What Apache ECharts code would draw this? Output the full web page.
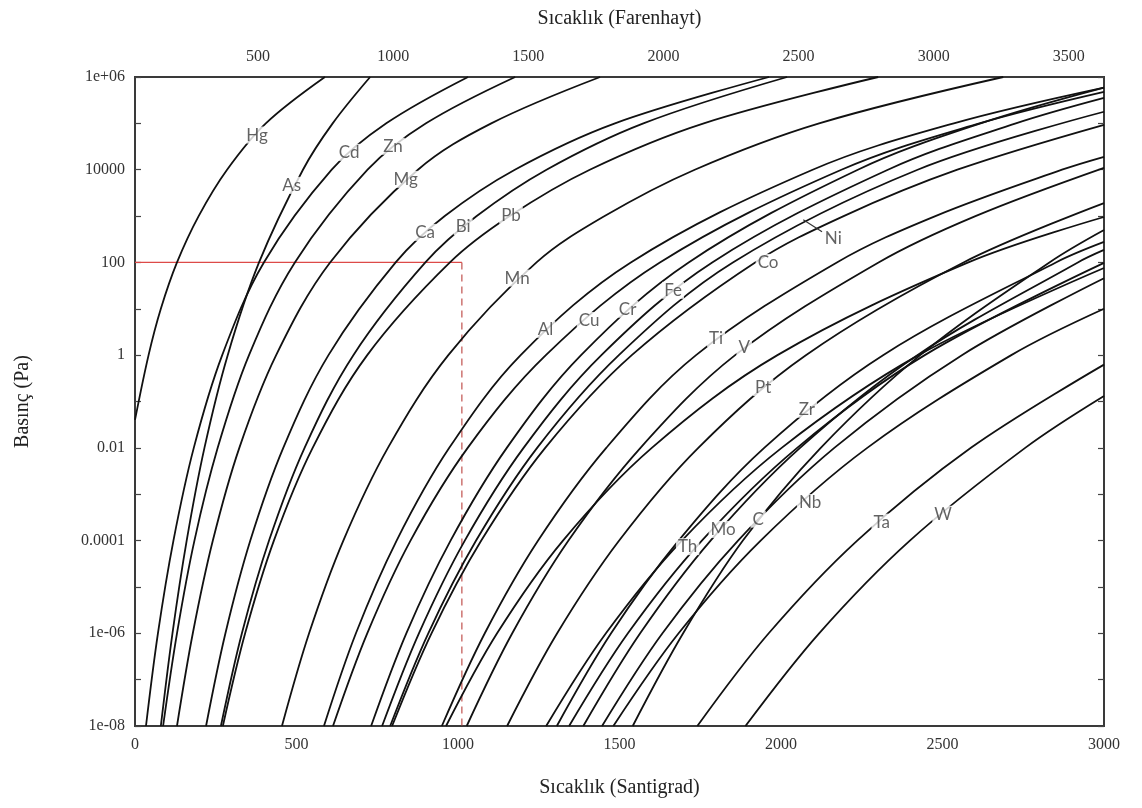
<!DOCTYPE html>
<html>
<head>
<meta charset="utf-8">
<script src="https://cdn.jsdelivr.net/npm/echarts@6/dist/echarts.min.js"></script>
<style>
  html, body { margin: 0; padding: 0; background: #ffffff; }
  #chart { width: 1142px; height: 808px; }
</style>
</head>
<body>
<div id="chart"></div>
<script>
// Vapour pressure curves: [temperature °C, pressure Pa]
const Hg = [[0,0.04],[42,1],[80,10],[130,100],[197,1e3],[285,1e4],[405,1e5],[588,1e6]];
const As = [[80,1e-8],[116,1e-6],[160,1e-4],[215,1e-2],[287,1],[384,100],[520,1e4],[612,1e5],[728,1e6]];
const Cd = [[34,1e-8],[71,1e-6],[119,1e-4],[182,1e-2],[270,1],[399,100],[609,1e4],[778,1e5],[1031,1e6]];
const Zn = [[87,1e-8],[130,1e-6],[184,1e-4],[256,1e-2],[353,1],[495,100],[720,1e4],[901,1e5],[1177,1e6]];
const Mg = [[130,1e-8],[179,1e-6],[241,1e-4],[323,1e-2],[437,1],[604,100],[876,1e4],[1103,1e5],[1440,1e6]];
const Ca = [[220,1e-8],[280,1e-6],[357,1e-4],[459,1e-2],[599,1],[807,100],[959,1e3],[1176,1e4],[1486,1e5],[1963,1e6]];
const Bi = [[266,1e-8],[331,1e-6],[415,1e-4],[525,1e-2],[676,1],[899,100],[1058,1e3],[1274,1e4],[1574,1e5],[2019,1e6]];
const Pb = [[272,1e-8],[341,1e-6],[430,1e-4],[550,1e-2],[719,1],[975,100],[1160,1e3],[1408,1e4],[1761,1e5],[2301,1e6]];
const Mn = [[455,1e-8],[539,1e-6],[645,1e-4],[783,1e-2],[970,1],[1243,100],[1454,1e3],[1733,1e4],[2118,1e5],[2688,1e6]];
const Al = [[585,1e-8],[684,1e-6],[810,1e-4],[973,1e-2],[1194,1],[1535,100],[2098,1e4],[2535,1e5],[3000,5.9e5]];
const Cu = [[613,1e-8],[719,1e-6],[853,1e-4],[1030,1e-2],[1272,1],[1625,100],[2187,1e4],[2614,1e5],[3000,4.8e5]];
const Cr = [[731,1e-8],[840,1e-6],[977,1e-4],[1151,1e-2],[1381,1],[1714,100],[2238,1e4],[2618,1e5],[3000,5.9e5]];
const Fe = [[765,1e-8],[879,1e-6],[1021,1e-4],[1203,1e-2],[1444,1],[1787,100],[2331,1e4],[2727,1e5],[3000,3.55e5]];
const Co = [[796,1e-8],[918,1e-6],[1072,1e-4],[1270,1e-2],[1538,1],[1920,100],[2194,1e3],[2546,1e4],[3000,9.3e4]];
const Ni = [[790,1e-8],[908,1e-6],[1056,1e-4],[1245,1e-2],[1498,1],[1851,100],[2423,1e4],[3000,1.78e5]];
const Ti = [[950,1e-8],[1083,1e-6],[1248,1e-4],[1459,1e-2],[1737,1],[2173,100],[2478,1e3],[2870,1e4],[3000,1.9e4]];
const V  = [[1027,1e-8],[1168,1e-6],[1342,1e-4],[1565,1e-2],[1858,1],[2302,100],[2602,1e3],[3000,1.1e4]];
const Pt = [[1152,1e-8],[1307,1e-6],[1499,1e-4],[1744,1e-2],[2077,1],[2565,100],[3000,1905]];
const Zr = [[1306,1e-8],[1474,1e-6],[1683,1e-4],[1948,1e-2],[2316,1],[2851,100],[3000,277]];
const Th = [[1273,1e-8],[1458,1e-6],[1693,1e-4],[2002,1e-2],[2426,1],[3000,75.9]];
const Mo = [[1388,1e-8],[1564,1e-6],[1782,1e-4],[2059,1e-2],[2422,1],[2919,100],[3000,186]];
const C  = [[1541,1e-8],[1697,1e-6],[1882,1e-4],[2123,1e-2],[2431,1],[2831,100],[3000,501]];
const Nb = [[1481,1e-8],[1683,1e-6],[1937,1e-4],[2267,1e-2],[2713,1],[3000,10]];
const Ta = [[1741,1e-8],[1962,1e-6],[2236,1e-4],[2588,1e-2],[3000,0.625]];
const W  = [[1890,1e-8],[2118,1e-6],[2399,1e-4],[2756,1e-2],[3000,0.1315]];
// three further curves drawn without a name
const extraCurve1 = [[963,1e-8],[1121,1e-6],[1325,1e-4],[1600,1e-2],[1989,1],[2580,100],[3000,955]];
const extraCurve2 = [[1344,1e-8],[1526,1e-6],[1755,1e-4],[2050,1e-2],[2445,1],[3000,97.7]];
const extraCurve3 = [[1446,1e-8],[1633,1e-6],[1867,1e-4],[2165,1e-2],[2560,1],[3000,45.7]];

const curves = { Hg, As, Cd, Zn, Mg, Ca, Bi, Pb, Mn, Al, Cu, Cr, Fe, Co, Ni, Ti, V, Pt, Zr, Th, Mo, C, Nb, Ta, W,
                 extraCurve1, extraCurve2, extraCurve3 };

// Where each element name sits: [name, temperature °C, pressure Pa]
const labelAt = [
  ['Hg', 378, 5.6e4], ['As', 485, 4.6e3], ['Cd', 663, 2.37e4], ['Zn', 799, 3.2e4],
  ['Mg', 838, 6.2e3], ['Ca', 898, 445], ['Bi', 1016, 590], ['Pb', 1164, 1050],
  ['Mn', 1183, 46], ['Al', 1271, 3.6], ['Cu', 1406, 5.6], ['Cr', 1525, 9.8],
  ['Fe', 1666, 25], ['Co', 1960, 100], ['Ni', 2162, 322], ['Ti', 1799, 2.3],
  ['V', 1886, 1.45], ['Pt', 1945, 0.2], ['Zr', 2080, 0.068], ['Th', 1711, 7.4e-5],
  ['Mo', 1821, 1.74e-4], ['C', 1929, 2.9e-4], ['Nb', 2090, 6.6e-4], ['Ta', 2312, 2.5e-4],
  ['W', 2502, 3.7e-4]
];
// Short leader from the Ni curve to its name
const niLeader = [[2069, 832], [2127, 457]];

// Reference reading: 100 Pa reached at about 1012 °C
const refPressure = 100;
const refTemp = 1012;
const pressureFloor = 1e-8;

// Axis ranges and tick labels
const celsiusRange = [0, 3000];
const fahrenheitRange = [45, 3630];
const fahrenheitTicks = [500, 1000, 1500, 2000, 2500, 3000, 3500];
const pressureRange = [1e-8, 1e6];
const pressureTickText = { '6': '1e+06', '4': '10000', '2': '100', '0': '1', '-2': '0.01', '-4': '0.0001', '-6': '1e-06', '-8': '1e-08' };

const serif = '"Liberation Serif", "DejaVu Serif", serif';
const axisText = { fontFamily: serif, fontSize: 16, color: '#333' };
const titleText = { fontFamily: serif, fontSize: 20, color: '#222' };

function pressureLabel(v) {
  const e = Math.round(Math.log10(v));
  return pressureTickText[String(e)] || '';
}
const plainNumber = v => String(Math.round(v));

const yAxisBase = {
  type: 'log',
  logBase: 10,
  min: pressureRange[0],
  max: pressureRange[1],
  interval: 1,
  axisLine: { show: false },
  splitLine: { show: false },
  axisTick: { show: true, inside: true, length: 6, lineStyle: { color: '#444', width: 1.2 } },
  minorTick: { show: false }
};

const series = [];
Object.keys(curves).forEach(name => {
  series.push({
    name,
    type: 'line',
    data: curves[name],
    smooth: 0.35,
    showSymbol: false,
    symbol: 'none',
    clip: true,
    silent: true,
    lineStyle: { color: '#111', width: 1.8 },
    z: 3
  });
});

series.push({
  type: 'line',
  data: niLeader,
  showSymbol: false, symbol: 'none', silent: true,
  lineStyle: { color: '#333', width: 1.2 },
  z: 4
});

series.push({
  type: 'line',
  data: [[celsiusRange[0], refPressure], [refTemp, refPressure]],
  showSymbol: false, symbol: 'none', silent: true,
  lineStyle: { color: '#dd4a48', width: 1.2 },
  z: 2
});
series.push({
  type: 'line',
  data: [[refTemp, refPressure], [refTemp, pressureFloor]],
  showSymbol: false, symbol: 'none', silent: true,
  lineStyle: { color: '#c0504d', width: 1.2, type: [7, 5] },
  z: 2
});

series.push({
  type: 'scatter',
  data: labelAt.map(d => ({ name: d[0], value: [d[1], d[2]] })),
  symbolSize: 1,
  itemStyle: { color: 'rgba(0,0,0,0)' },
  silent: true,
  z: 5,
  label: {
    show: true,
    position: 'inside',
    formatter: p => p.name,
    fontFamily: 'Lato, "Open Sans", sans-serif',
    fontSize: 17,
    color: '#3c3c3c',
    backgroundColor: '#ffffff',
    padding: [0, 2, 0, 2]
  }
});

const chart = echarts.init(document.getElementById('chart'), null, { renderer: 'canvas' });
chart.setOption({
  animation: false,
  backgroundColor: '#ffffff',
  grid: { left: 135, right: 38, top: 77, bottom: 82, show: true, borderColor: '#3a3a3a', borderWidth: 2, backgroundColor: 'transparent' },
  xAxis: [
    {
      type: 'value',
      position: 'bottom',
      min: celsiusRange[0],
      max: celsiusRange[1],
      interval: 500,
      name: 'Sıcaklık (Santigrad)',
      nameLocation: 'middle',
      nameGap: 52,
      nameTextStyle: titleText,
      axisLine: { show: false },
      axisTick: { show: false },
      splitLine: { show: false },
      axisLabel: Object.assign({ margin: 11, formatter: plainNumber }, axisText)
    },
    {
      type: 'value',
      position: 'top',
      min: fahrenheitRange[0],
      max: fahrenheitRange[1],
      name: 'Sıcaklık (Farenhayt)',
      nameLocation: 'middle',
      nameGap: 48,
      nameTextStyle: titleText,
      axisLine: { show: false },
      axisTick: { show: false },
      splitLine: { show: false },
      axisLabel: Object.assign({ margin: 12, customValues: fahrenheitTicks, formatter: plainNumber }, axisText)
    }
  ],
  yAxis: [
    Object.assign({}, yAxisBase, {
      position: 'left',
      name: 'Basınç (Pa)',
      nameLocation: 'middle',
      nameGap: 102,
      nameRotate: 90,
      nameTextStyle: titleText,
      axisLabel: Object.assign({ margin: 10, formatter: pressureLabel, showMinLabel: true, showMaxLabel: true }, axisText)
    }),
    Object.assign({}, yAxisBase, {
      position: 'right',
      axisLabel: { show: false }
    })
  ],
  series
});
</script>
</body>
</html>
